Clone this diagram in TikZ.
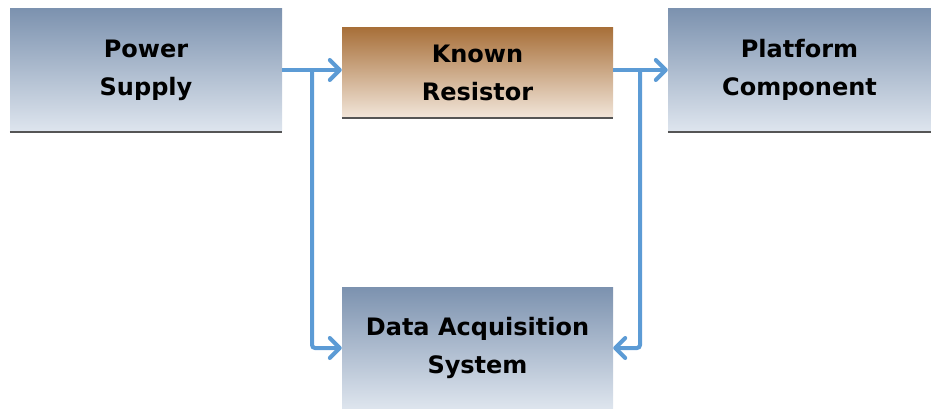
\documentclass[tikz,border=0pt]{standalone}
\usepackage{fontspec}
\setmainfont{DejaVu Sans}
\usetikzlibrary{arrows.meta}
\definecolor{bluetop}{RGB}{124,146,175}
\definecolor{bluebot}{RGB}{222,229,238}
\definecolor{brtop}{RGB}{168,112,58}
\definecolor{brbot}{RGB}{242,230,218}
\definecolor{arrowc}{RGB}{92,155,213}
\definecolor{edgec}{RGB}{85,85,85}
\tikzset{
  bluebox/.style={rectangle, inner sep=0pt, top color=bluetop, bottom color=bluebot,
    align=center, font=\fontsize{24}{38}\selectfont\bfseries, text=black},
  brownbox/.style={bluebox, top color=brtop, bottom color=brbot},
  conn/.style={draw=arrowc, line width=4pt, rounded corners=3pt,
    -{Straight Barb[length=10pt,width=20pt,line cap=round,line join=round]}},
}
\begin{document}
\begin{tikzpicture}[x=1pt,y=-1pt]
\useasboundingbox (0,0) rectangle (931,409);
\node[bluebox, minimum width=272pt, minimum height=123pt] (ps) at (146,70) {Power\\Supply};
\node[brownbox, minimum width=271pt, minimum height=90pt] (kr) at (477.5,73) {Known\\Resistor};
\node[bluebox, minimum width=263pt, minimum height=123pt] (pc) at (799.5,70) {Platform\\Component};
\node[bluebox, minimum width=271pt, minimum height=122pt] (daq) at (477.5,348) {Data Acquisition\\System};
% bottom edge lines
\draw[edgec, line width=2pt] (ps.south west) -- (ps.south east);
\draw[edgec, line width=2pt] (kr.south west) -- (kr.south east);
\draw[edgec, line width=2pt] (pc.south west) -- (pc.south east);
% connectors
\coordinate (j1) at (312,70);
\coordinate (j2) at (640,70);
\draw[conn] (ps.east |- j1) -- (kr.west |- j1);
\draw[conn] (kr.east |- j2) -- (pc.west |- j2);
\draw[conn] (j1) |- (daq.west);
\draw[conn] (j2) |- (daq.east);
\end{tikzpicture}
\end{document}
